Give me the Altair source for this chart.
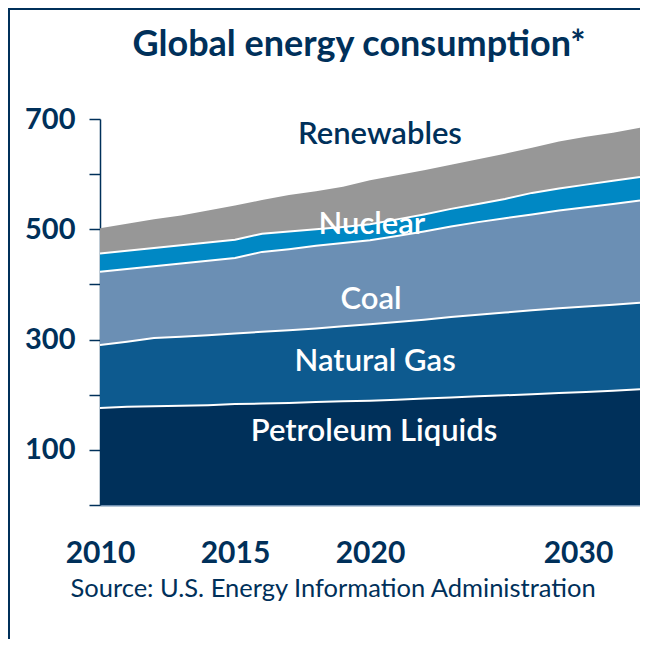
import altair as alt
import pandas as pd

# ---- data ----
years = list(range(2010, 2031))
series_names = ["Petroleum Liquids", "Natural Gas", "Coal", "Nuclear", "Renewables"]
petroleum = [176, 178, 179, 180, 181, 183, 184, 185, 187, 188, 189, 191, 193, 195, 197, 199, 201, 203, 205, 207, 210]
natural_gas = [114, 118, 124, 125, 127, 128, 130, 132, 133, 136, 139, 141, 143, 146, 148, 150, 152, 154, 155, 156, 157]
coal = [133, 132, 130, 133, 135, 137, 145, 147, 150, 151, 152, 156, 160, 164, 168, 171, 174, 177, 180, 183, 185]
nuclear = [33, 33, 33, 33, 33, 33, 33, 32, 30, 29, 29, 30, 31, 32, 33, 35, 39, 40, 41, 42, 43]
renewables = [46, 49, 52, 54, 58, 62, 61, 66, 69, 73, 80, 80, 80, 80, 81, 82, 82, 85, 87, 87, 89]
series_colors = ["#00305a", "#0d5a8f", "#6b8fb4", "#0088c4", "#979797"]

x_tick_values = [2010, 2015, 2020, 2030]
y_tick_values = [0, 100, 200, 300, 400, 500, 600, 700]

label_text = ["Renewables", "Nuclear", "Coal", "Natural Gas", "Petroleum Liquids"]
label_year = [2020.37, 2020.07, 2020.04, 2020.19, 2020.15]
label_value = [671, 508, 371, 259, 132]
label_color = ["#00305a", "#ffffff", "#ffffff", "#ffffff", "#ffffff"]

title_text = "Global energy consumption*"
source_text = "Source: U.S. Energy Information Administration"

NAVY = "#00305a"
FONT = "Lato"

rows = []
for i, name in enumerate(series_names):
    vals = [petroleum, natural_gas, coal, nuclear, renewables][i]
    for y, v in zip(years, vals):
        rows.append({"year": y, "series": name, "value": v, "idx": i})
df = pd.DataFrame(rows)

labels_df = pd.DataFrame({"text": label_text, "year": label_year,
                          "value": label_value, "col": label_color})

x_enc = alt.X(
    "year:Q",
    scale=alt.Scale(domain=[2010, 2030], nice=False, zero=False),
    axis=alt.Axis(
        values=x_tick_values, format="d", ticks=False, grid=False,
        domainColor="#6f8fb0", domainWidth=2,
        labelFont=FONT, labelFontSize=30, labelFontWeight="bold", labelColor=NAVY,
        labelPadding=33, labelFlush=False, labelOverlap=False,
        labelOffset={"condition": {"test": "datum.value == 2030", "value": -62}, "value": 0},
        title=source_text,
        titleFont=FONT, titleFontSize=25.5, titleFontWeight="normal", titleColor=NAVY,
        titleX=-30, titleY=91, titleAlign="left", titleBaseline="alphabetic",
    ),
)

y_axis = alt.Axis(
    values=y_tick_values, grid=False, title=None,
    labelExpr="datum.value % 200 == 100 ? datum.label : ''",
    tickSize=11, tickColor=NAVY, tickWidth=1.5,
    domainColor=NAVY, domainWidth=1.5,
    labelFont=FONT, labelFontSize=29, labelFontWeight="bold", labelColor=NAVY,
    labelPadding=14,
)

color_enc = alt.Color("series:N", scale=alt.Scale(domain=series_names, range=series_colors), legend=None)

areas = alt.Chart(df).mark_area(opacity=1).encode(
    x=x_enc,
    y=alt.Y("value:Q", stack="zero", scale=alt.Scale(domain=[0, 700], nice=False), axis=y_axis),
    color=color_enc,
    order=alt.Order("idx:Q", sort="ascending"),
)

lines = alt.Chart(df).transform_filter(
    "datum.series != 'Renewables'"
).mark_line(color="white", strokeWidth=2).encode(
    x="year:Q",
    y=alt.Y("value:Q", stack="zero"),
    detail="series:N",
    order=alt.Order("idx:Q", sort="ascending"),
)

texts = alt.Chart(labels_df).mark_text(
    font=FONT, fontSize=31, fontWeight=600, baseline="middle", align="center"
).encode(
    x="year:Q", y="value:Q", text="text:N",
    color=alt.Color("col:N", scale=None),
)

frame = pd.DataFrame({"k": [0]})
title = alt.Chart(frame).mark_text(
    text=title_text, font=FONT, fontSize=36, fontWeight="bold", color=NAVY,
    align="center", baseline="alphabetic",
).encode(x=alt.value(259), y=alt.value(-63))

left_line = alt.Chart(frame).mark_rule(color=NAVY, strokeWidth=2).encode(
    x=alt.value(-91), y=alt.value(-111), y2=alt.value(530))
top_line = alt.Chart(frame).mark_rule(color=NAVY, strokeWidth=2).encode(
    x=alt.value(-92), x2=alt.value(540), y=alt.value(-110))

chart = alt.layer(areas, lines, texts, title, left_line, top_line).properties(
    width=540, height=386,
    autosize=alt.AutoSizeParams(type="none"),
    padding={"left": 92, "top": 111, "right": 0, "bottom": 134},
).configure_view(stroke=None)

chart.save("out.html", embed_options={"renderer": "svg", "actions": False})
